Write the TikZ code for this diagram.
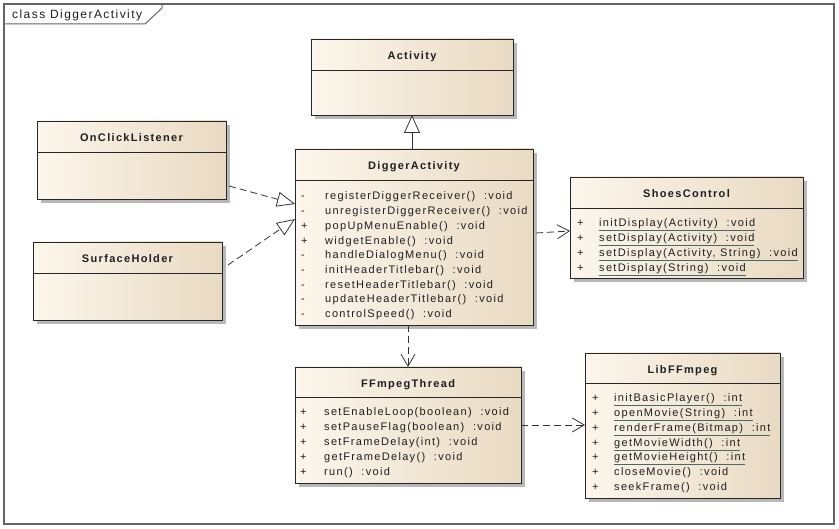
\documentclass[tikz,border=0pt]{standalone}
\usepackage{fontspec}
\setmainfont{Liberation Sans}[LetterSpace=12]
\usetikzlibrary{arrows.meta,calc}
\definecolor{boxL}{RGB}{252,246,236}
\definecolor{boxR}{RGB}{233,218,194}
\definecolor{txt}{RGB}{30,30,35}
\definecolor{ulc}{RGB}{70,105,105}
\definecolor{framec}{RGB}{100,100,100}
\newcommand\vis[2][23pt]{\makebox[#1][l]{#2}}
\newcommand\ulm[1]{\textcolor{ulc}{\underline{\textcolor{txt}{#1}}}}
\newcommand\umlclass[7]{%
  \fill[black!28] (#2+4,#3+4) rectangle (#2+#4+4,#3+#5+4);
  \node[classbox, minimum width=#4pt, minimum height=#5pt] (#1) at (#2,#3) {};
  \draw[classline] ([yshift=-#6pt]#1.north west) -- ([yshift=-#6pt]#1.north east);
  \node[classname] (#1-name) at ([yshift=-21pt]#1.north) {#7};
}
\tikzset{
  classbox/.style={draw=black!85, line width=0.9pt, left color=boxL, right color=boxR, anchor=north west, inner sep=0pt, outer sep=0pt},
  classline/.style={black!85, line width=0.9pt},
  classname/.style={anchor=base, font=\fontsize{11}{13}\selectfont\bfseries, text=txt, inner sep=0pt},
  methods/.style={anchor=base west, inner sep=0pt, font=\fontsize{11}{14.7}\selectfont, text=txt},
  conn/.style={black!80, line width=0.8pt},
  dep/.style={conn, dash pattern=on 7pt off 4pt, -{Straight Barb[length=12pt,width=14pt]}},
  real/.style={conn, dash pattern=on 7pt off 4pt, -{Triangle[open,length=18pt,width=15pt,fill=white]}},
  gen/.style={conn, -{Triangle[open,length=18pt,width=16pt,fill=white]}},
}
\begin{document}
\begin{tikzpicture}[x=1pt,y=-1pt]
\useasboundingbox (0,0) rectangle (839,529);
% frame
\draw[framec, line width=1.2pt] (4,4) rectangle (834,524);
\draw[framec, line width=1pt] (4,24) -- (145,24) -- (162,8) -- (162,4);
\node[anchor=base west, font=\fontsize{12}{14}\selectfont, text=txt, inner sep=0pt] (flabel) at (12,18.5) {class DiggerActivity};

% classes
\umlclass{act}{311}{39}{202}{76}{31}{Activity}
\umlclass{onc}{37}{121}{189}{78}{31}{OnClickListener}
\umlclass{sh}{33}{242}{189}{78}{31}{SurfaceHolder}
\umlclass{dig}{295}{149}{238}{176}{31}{DiggerActivity}
\umlclass{sc}{570}{177}{233}{101}{31}{ShoesControl}
\umlclass{ff}{295}{367}{226}{116}{30}{FFmpegThread}
\umlclass{lib}{585}{353}{195}{145}{30}{LibFFmpeg}

\node[methods] (dig-m) at ([xshift=6pt,yshift=-51pt]dig.north west) {\begin{tabular}[t]{@{}l@{}}
\vis[24pt]{-}registerDiggerReceiver()~~:void\\
\vis[24pt]{-}unregisterDiggerReceiver()~~:void\\
\vis[24pt]{+}popUpMenuEnable()~~:void\\
\vis[24pt]{+}widgetEnable()~~:void\\
\vis[24pt]{-}handleDialogMenu()~~:void\\
\vis[24pt]{-}initHeaderTitlebar()~~:void\\
\vis[24pt]{-}resetHeaderTitlebar()~~:void\\
\vis[24pt]{-}updateHeaderTitlebar()~~:void\\
\vis[24pt]{-}controlSpeed()~~:void
\end{tabular}};

\node[methods] (sc-m) at ([xshift=7pt,yshift=-50pt]sc.north west) {\begin{tabular}[t]{@{}l@{}}
\vis[22pt]{+}\ulm{initDisplay(Activity)~~:void}\\
\vis[22pt]{+}\ulm{setDisplay(Activity)~~:void}\\
\vis[22pt]{+}\ulm{setDisplay(Activity, String)~~:void}\\
\vis[22pt]{+}\ulm{setDisplay(String)~~:void}
\end{tabular}};

\node[methods, font=\fontsize{11}{15}\selectfont] (ff-m) at ([xshift=5pt,yshift=-49pt]ff.north west) {\begin{tabular}[t]{@{}l@{}}
\vis[24pt]{+}setEnableLoop(boolean)~~:void\\
\vis[24pt]{+}setPauseFlag(boolean)~~:void\\
\vis[24pt]{+}setFrameDelay(int)~~:void\\
\vis[24pt]{+}getFrameDelay()~~:void\\
\vis[24pt]{+}run()~~:void
\end{tabular}};

\node[methods] (lib-m) at ([xshift=7pt,yshift=-49pt]lib.north west) {\begin{tabular}[t]{@{}l@{}}
\vis[22pt]{+}\ulm{initBasicPlayer()~~:int}\\
\vis[22pt]{+}\ulm{openMovie(String)~~:int}\\
\vis[22pt]{+}\ulm{renderFrame(Bitmap)~~:int}\\
\vis[22pt]{+}\ulm{getMovieWidth()~~:int}\\
\vis[22pt]{+}\ulm{getMovieHeight()~~:int}\\
\vis[22pt]{+}closeMovie()~~:void\\
\vis[22pt]{+}seekFrame()~~:void
\end{tabular}};

% connectors
\draw[gen] (act.south |- dig.north) -- (act.south);
\draw[real] ([xshift=3pt,yshift=-26pt]onc.east) -- ([yshift=33pt]dig.west);
\draw[real] ([xshift=6pt,yshift=16pt]sh.east) -- ([yshift=18pt]dig.west);
\draw[dep] ([xshift=3pt,yshift=4pt]dig.east) -- ([yshift=-3.5pt]sc.west);
\draw[dep] (ff.north |- dig.south) -- (ff.north);
\draw[dep] (ff.east) -- (ff.east -| lib.west);
\end{tikzpicture}
\end{document}
